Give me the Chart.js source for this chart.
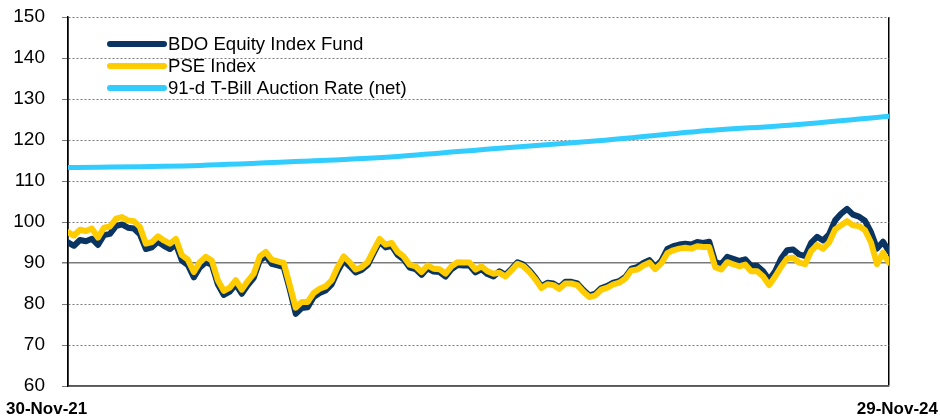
<!DOCTYPE html>
<html>
<head>
<meta charset="utf-8">
<script src="https://cdn.jsdelivr.net/npm/chart.js@4.4.1/dist/chart.umd.min.js"></script>
<style>
  html, body { margin: 0; padding: 0; background: #fff; }
  #wrap { width: 940px; height: 419px; position: relative; }
  canvas { display: block; }
</style>
</head>
<body>
<div id="wrap"><canvas id="c" width="940" height="419"></canvas></div>
<script>
// ---- data ----
const xTickLabels = ['30-Nov-21', '29-Nov-24'];
const seriesNames = ['BDO Equity Index Fund', 'PSE Index', '91-d T-Bill Auction Rate (net)'];

const pse = [
  97.5, 96.7, 98.1, 97.8, 98.4, 96.2, 98.6, 98.9, 100.8, 101.2,
  100.4, 100.2, 98.8, 94.7, 95.1, 96.5, 95.5, 94.7, 95.9, 91.9,
  90.8, 87.8, 90.2, 91.5, 90.6, 85.8, 83.2, 84.0, 85.8, 83.5,
  85.6, 87.4, 91.6, 92.7, 90.8, 90.4, 90.0, 84.6, 79.1, 80.5,
  80.5, 82.7, 83.7, 84.3, 85.8, 89.0, 91.6, 90.2, 88.4, 89.0,
  90.2, 93.1, 95.9, 94.5, 94.9, 92.7, 91.6, 89.6, 89.2, 87.8,
  89.4, 88.6, 88.5, 87.4, 89.2, 90.2, 90.1, 90.1, 88.4, 89.2,
  88.0, 87.4, 87.6, 86.7, 88.2, 89.8, 89.2, 87.8, 86.0, 83.9,
  84.8, 84.6, 83.7, 85.0, 85.0, 84.6, 83.0, 81.7, 82.1, 83.5,
  84.0, 84.8, 85.2, 86.2, 88.2, 88.4, 89.4, 90.1, 88.5, 89.9,
  92.4, 93.1, 93.5, 93.7, 93.5, 94.1, 93.9, 93.9, 89.0, 88.4,
  90.2, 89.7, 89.2, 89.6, 88.0, 88.0, 86.7, 84.6, 86.7, 89.1,
  91.1, 91.3, 90.1, 89.7, 92.9, 94.4, 93.5, 95.0, 98.2, 99.2,
  100.2, 99.2, 99.0, 98.0, 95.0, 89.7, 92.5, 90.1
];

const bdo = [
  95.0, 94.2, 95.6, 95.3, 95.9, 94.4, 96.8, 97.1, 99.0, 99.4,
  98.6, 98.4, 97.0, 93.4, 93.8, 95.2, 94.2, 93.4, 94.6, 90.6,
  89.5, 86.5, 88.9, 90.2, 89.6, 84.8, 82.2, 83.0, 84.8, 82.5,
  84.6, 86.4, 90.6, 91.7, 89.8, 89.4, 89.0, 83.6, 77.6, 79.0,
  79.2, 81.7, 82.7, 83.3, 84.8, 88.0, 90.6, 89.2, 87.7, 88.3,
  89.5, 92.4, 95.2, 93.8, 94.2, 92.0, 90.9, 88.9, 88.5, 87.1,
  88.7, 87.9, 87.8, 86.7, 88.5, 89.5, 89.4, 89.4, 87.7, 88.5,
  87.3, 86.7, 88.0, 87.1, 88.6, 90.2, 89.6, 88.2, 86.4, 84.3,
  85.2, 85.0, 84.1, 85.4, 85.4, 85.0, 83.4, 82.1, 82.5, 83.9,
  84.4, 85.2, 85.6, 86.6, 88.6, 89.0, 90.0, 90.7, 89.1, 90.5,
  93.4, 94.1, 94.5, 94.7, 94.5, 95.1, 94.9, 95.2, 90.3, 89.7,
  91.5, 91.0, 90.5, 90.9, 89.3, 89.3, 88.0, 85.9, 88.0, 91.1,
  93.1, 93.3, 92.1, 91.7, 94.9, 96.4, 95.5, 97.0, 100.4, 102.0,
  103.2, 101.8, 101.3, 100.3, 97.5, 93.5, 95.2, 92.8
];

// T-Bill curve: sample positions (same index scale as the series) and values
const tbillAt = [0, 22, 39, 55, 72, 89, 105, 122, 137];
const tbill   = [113.3, 113.8, 114.8, 116.0, 118.0, 119.9, 122.1, 123.8, 125.8];

const yMin = 60, yMax = 150, yStep = 10;
const lastIndex = pse.length - 1;

// ---- chart ----
const toXY = (arr) => arr.map((v, i) => ({ x: i, y: v }));
const tbillXY = tbillAt.map((x, i) => ({ x: x, y: tbill[i] }));

const FONT = "'Liberation Sans', Arial, sans-serif";

const insetLegend = {
  id: 'insetLegend',
  afterDraw(chart) {
    const ctx = chart.ctx;
    const x0 = 110, x1 = 164, tx = 168, y0 = 44, dy = 22;
    ctx.save();
    ctx.font = "18.6px " + FONT;
    ctx.textBaseline = 'middle';
    ctx.textAlign = 'left';
    chart.data.datasets.forEach((ds, i) => {
      const y = y0 + i * dy;
      ctx.strokeStyle = ds.borderColor;
      ctx.lineWidth = 6;
      ctx.lineCap = 'round';
      ctx.beginPath();
      ctx.moveTo(x0, y);
      ctx.lineTo(x1, y);
      ctx.stroke();
      ctx.fillStyle = '#000';
      ctx.fillText(ds.label, tx, y + 1);
    });
    ctx.restore();
  }
};

// x-axis end labels, placed at the outer edges like the reference
const edgeLabels = {
  id: 'edgeLabels',
  afterDraw(chart) {
    const ctx = chart.ctx;
    ctx.save();
    ctx.font = "bold 17px " + FONT;
    ctx.fillStyle = '#000';
    ctx.textBaseline = 'middle';
    ctx.textAlign = 'left';
    ctx.fillText(xTickLabels[0], 6, 409);
    ctx.textAlign = 'right';
    ctx.fillText(xTickLabels[1], 938, 409);
    ctx.restore();
  }
};

new Chart(document.getElementById('c'), {
  type: 'line',
  data: {
    datasets: [
      { label: seriesNames[0], data: toXY(bdo), borderColor: '#0A3563', borderWidth: 6, order: 1 },
      { label: seriesNames[1], data: toXY(pse), borderColor: '#FFCC00', borderWidth: 6, order: 0 },
      { label: seriesNames[2], data: tbillXY, borderColor: '#33CCFF', borderWidth: 5, order: 2, cubicInterpolationMode: 'monotone' }
    ]
  },
  options: {
    responsive: false,
    animation: false,
    devicePixelRatio: 1,
    layout: { padding: { left: 0, right: 51, top: 17, bottom: 0 } },
    elements: {
      point: { radius: 0 },
      line: { borderJoinStyle: 'round', borderCapStyle: 'round', tension: 0 }
    },
    plugins: { legend: { display: false }, tooltip: { enabled: false } },
    scales: {
      x: {
        type: 'linear',
        min: 0,
        max: lastIndex,
        afterBuildTicks(scale) { scale.ticks = [{ value: 0 }, { value: lastIndex }]; },
        afterFit(scale) { scale.height = 33; scale.paddingLeft = 0; scale.paddingRight = 0; },
        ticks: { display: false },
        grid: { display: true, color: '#000', lineWidth: 1.5, drawTicks: false },
        border: { display: true, color: '#555', width: 1.5 }
      },
      y: {
        min: yMin,
        max: yMax,
        afterFit(scale) { scale.width = 68; scale.paddingTop = 0; scale.paddingBottom = 0; },
        ticks: {
          stepSize: yStep,
          padding: 17,
          color: '#000',
          font: { family: FONT, size: 19 }
        },
        grid: {
          color: '#7a7a7a',
          lineWidth: (ctx) => (ctx.tick && ctx.tick.value === 90 ? 1.5 : 1),
          tickLength: 6,
          tickColor: '#7a7a7a'
        },
        border: {
          display: true,
          color: '#000',
          width: 1.5,
          dash: (ctx) => (ctx.tick && (ctx.tick.value === 90 || ctx.tick.value === 60) ? [] : [2, 2])
        }
      }
    }
  },
  plugins: [insetLegend, edgeLabels]
});
</script>
</body>
</html>
